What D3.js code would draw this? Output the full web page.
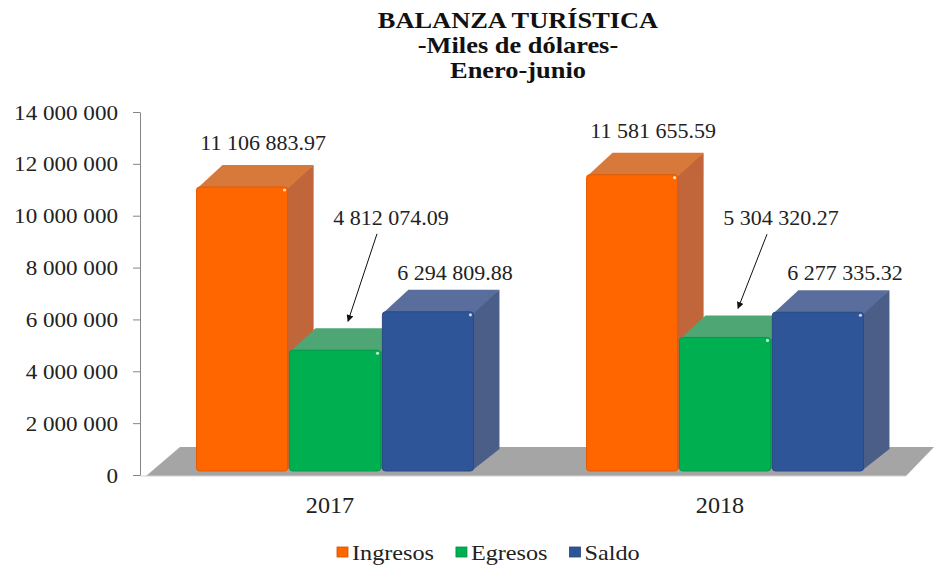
<!DOCTYPE html>
<html>
<head>
<meta charset="utf-8">
<script src="https://cdn.jsdelivr.net/npm/d3@7"></script>
<style>
  body { margin: 0; background: #fff; }
  svg { display: block; }
  svg text { font-family: "Liberation Serif", "Times New Roman", serif; }
</style>
</head>
<body>
<svg id="chart" width="940" height="565"></svg>
<script>
const years = ['2017', '2018'];
const series = ['Ingresos', 'Egresos', 'Saldo'];
const ingresos = [11106883.97, 11581655.59];
const egresos = [4812074.09, 5304320.27];
const saldo = [6294809.88, 6277335.32];
const yTicks = [0, 2000000, 4000000, 6000000, 8000000, 10000000, 12000000, 14000000];
const titleLines = ['BALANZA TURÍSTICA', '-Miles de dólares-', 'Enero-junio'];

const colors = {
    Ingresos: {front: '#FF6600', top: '#D8793C', side: '#C0663A'},
    Egresos: {front: '#00B050', top: '#4DA674', side: '#3E8E60'},
    Saldo: {front: '#2E5597', top: '#5A6E9E', side: '#4A5E88'}
};

const values = {Ingresos: ingresos, Egresos: egresos, Saldo: saldo};
const svg = d3.select('#chart');
const serif = '"Liberation Serif", "Times New Roman", serif';
const dx = 26, dy = -22;

// sx: a bit of horizontal stretch, the picture's text is wide
function txt(g, x, y, s, sx = 1) {
    return g.append('text')
        .attr('transform', `translate(${x},${y}) scale(${sx},1)`)
        .attr('font-family', serif)
        .text(s);
}
const fmt = v => d3.format(',')(v).replace(/,/g, ' ');
const fmt2 = v => d3.format(',.2f')(v).replace(/,/g, ' ');

// title
const tg = svg.append('g').attr('font-weight', 'bold').attr('font-size', 24)
    .attr('text-anchor', 'middle').attr('fill', '#111');
titleLines.forEach((t, i) => txt(tg, 518, 28 + i * 25, t, 1.1));

const y = d3.scaleLinear().domain([0, 14000000]).range([475, 112]);
const x0 = d3.scaleBand().domain(years).range([140, 920]).paddingInner(0.29).paddingOuter(0.145);
const x1 = d3.scaleBand().domain(series).range([0, x0.bandwidth()]).paddingInner(0.02);

// floor
const fy = y(0);
svg.append('polygon')
    .attr('points', [[146, fy + 1], [180, fy - 28], [934, fy - 28], [906, fy + 1]].map(p => p.join(',')).join(' '))
    .attr('fill', '#A5A5A5');
svg.append('line').attr('x1', 140).attr('x2', 906).attr('y1', fy + 1).attr('y2', fy + 1)
    .attr('stroke', '#D0D0D0');

// y axis
const yAxis = svg.append('g')
    .attr('transform', 'translate(140,0)')
    .call(d3.axisLeft(y).tickValues(yTicks).tickFormat(fmt).tickSize(7).tickSizeOuter(0).tickPadding(15));
yAxis.select('.domain').attr('stroke', '#868686');
yAxis.selectAll('.tick line').attr('stroke', '#868686');
yAxis.selectAll('.tick text').remove();
yAxis.selectAll('.tick').each(function (d) {
    txt(d3.select(this), -22, 7, fmt(d), 1.05)
        .attr('font-size', 22).attr('fill', '#222').attr('text-anchor', 'end');
});

// bars
const yb = y(0) - 4;
const bars = [];
years.forEach((yr, i) => {
    series.forEach(s => {
        bars.push({year: yr, s: s, v: values[s][i], xl: x0(yr) + x1(s), w: x1.bandwidth()});
    });
});

const bg = svg.append('g');
bars.forEach(d => {
    const c = colors[d.s];
    const xl = d.xl, xr = d.xl + d.w, yt = y(d.v);
    bg.append('polygon')
        .attr('points', [[xr - 2, yt], [xr + dx, yt + dy], [xr + dx, yb + dy], [xr - 2, yb]].map(p => p.join(',')).join(' '))
        .attr('fill', c.side);
    bg.append('polygon')
        .attr('points', [[xl, yt + 2], [xl + dx, yt + dy], [xr + dx, yt + dy], [xr, yt + 2]].map(p => p.join(',')).join(' '))
        .attr('fill', c.top);
    bg.append('rect')
        .attr('x', xl).attr('y', yt).attr('width', d.w).attr('height', yb - yt)
        .attr('rx', 3)
        .attr('fill', c.front)
        .attr('stroke', d3.color(c.front).darker(0.35))
        .attr('stroke-width', 1);
    bg.append('circle').attr('cx', xr - 3).attr('cy', yt + 3).attr('r', 1.6)
        .attr('fill', '#fff').attr('opacity', 0.75);
});

// data labels
svg.append('defs').append('marker')
    .attr('id', 'arrow').attr('viewBox', '0 0 10 10').attr('refX', 9).attr('refY', 5)
    .attr('markerWidth', 7).attr('markerHeight', 7).attr('orient', 'auto')
    .append('path').attr('d', 'M0,0L10,5L0,10z').attr('fill', '#111');

const lg = svg.append('g').attr('font-size', 22).attr('fill', '#222').attr('text-anchor', 'middle');
years.forEach((yr, i) => {
    const bo = bars.find(b => b.year === yr && b.s === 'Ingresos');
    const be = bars.find(b => b.year === yr && b.s === 'Egresos');
    const bs = bars.find(b => b.year === yr && b.s === 'Saldo');
    txt(lg, bo.xl + bo.w / 2 + 21, y(bo.v) - 37, fmt2(bo.v));
    const sy = y(bs.v) - 32;
    txt(lg, bs.xl + bs.w / 2 + 27, sy, fmt2(bs.v));
    const ex = be.xl + be.w / 2 + 56, ey = sy - 55;
    txt(lg, ex, ey, fmt2(be.v));
    svg.append('line')
        .attr('x1', ex - 14).attr('y1', ey + 9)
        .attr('x2', be.xl + be.w / 2 + 13).attr('y2', y(be.v) - 29)
        .attr('stroke', '#111').attr('stroke-width', 1)
        .attr('marker-end', 'url(#arrow)');
});

// category labels
const cg = svg.append('g').attr('font-size', 23).attr('fill', '#222').attr('text-anchor', 'middle');
years.forEach(yr => txt(cg, x0(yr) + x0.bandwidth() / 2 - 5, 513, yr, 1.05));

// legend
const leg = svg.append('g').attr('font-size', 22).attr('fill', '#222');
let lx = 337;
series.forEach(s => {
    leg.append('rect').attr('x', lx).attr('y', 547).attr('width', 11).attr('height', 10)
        .attr('fill', colors[s].front).attr('stroke', d3.color(colors[s].front).darker(0.6)).attr('stroke-width', 0.8);
    const t = txt(leg, lx + 15, 560, s, 1.1);
    const w = t.node().getComputedTextLength() * 1.1;
    lx += 15 + w + 22;
});
</script>
</body>
</html>
